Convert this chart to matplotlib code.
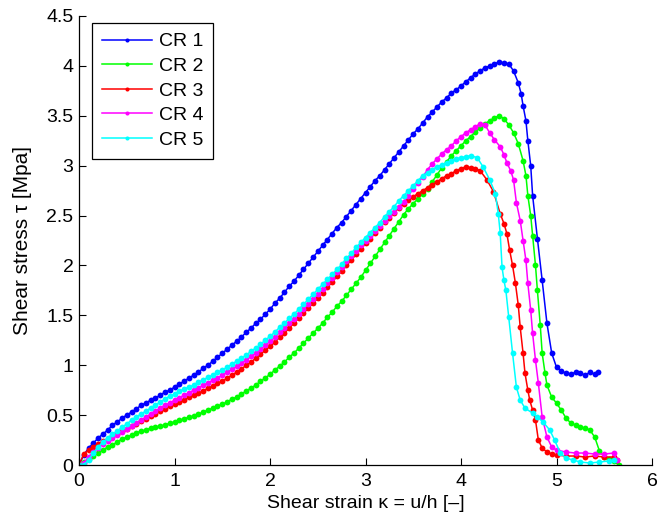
import matplotlib
matplotlib.use("Agg")
import matplotlib.pyplot as plt

plt.rcParams['font.family'] = ['Liberation Sans', 'DejaVu Sans']

labels = ["CR 1", "CR 2", "CR 3", "CR 4", "CR 5"]
colors = ["#0000ff", "#00ff00", "#ff0000", "#ff00ff", "#00ffff"]

# strain positions read in the loading (rising) part
grid = [0.0, 0.05, 0.1, 0.15, 0.2, 0.25, 0.3, 0.35, 0.4, 0.45, 0.5, 0.55, 0.6, 0.65, 0.7,
        0.75, 0.8, 0.85, 0.9, 0.95, 1.0, 1.05, 1.1, 1.15, 1.2, 1.25, 1.3, 1.35, 1.4, 1.45,
        1.5, 1.55, 1.6, 1.65, 1.7, 1.75, 1.8, 1.85, 1.9, 1.95, 2.0, 2.05, 2.1, 2.15, 2.2,
        2.25, 2.3, 2.35, 2.4, 2.45, 2.5, 2.55, 2.6, 2.65, 2.7, 2.75, 2.8, 2.85, 2.9, 2.95,
        3.0, 3.05, 3.1, 3.15, 3.2, 3.25, 3.3, 3.35, 3.4, 3.45, 3.5, 3.55, 3.6, 3.65, 3.7,
        3.75, 3.8, 3.85, 3.9, 3.95, 4.0, 4.05, 4.1, 4.15, 4.2, 4.25, 4.3, 4.35, 4.4]

# CR 1
y1_rise = [0, 0.1, 0.17, 0.22, 0.27, 0.31, 0.35, 0.4, 0.43, 0.47, 0.5, 0.53, 0.56, 0.6,
           0.62, 0.65, 0.67, 0.7, 0.73, 0.75, 0.78, 0.81, 0.84, 0.87, 0.9, 0.93, 0.97, 1.0,
           1.04, 1.08, 1.12, 1.16, 1.2, 1.24, 1.28, 1.33, 1.37, 1.42, 1.46, 1.51, 1.56,
           1.62, 1.67, 1.73, 1.79, 1.84, 1.9, 1.96, 2.02, 2.08, 2.14, 2.2, 2.26, 2.32, 2.38,
           2.43, 2.49, 2.55, 2.61, 2.67, 2.73, 2.79, 2.85, 2.9, 2.96, 3.02, 3.08, 3.14, 3.2,
           3.26, 3.32, 3.37, 3.43, 3.49, 3.54, 3.59, 3.64, 3.68, 3.73, 3.76, 3.8, 3.84, 3.88,
           3.92, 3.95, 3.98, 4.0, 4.02, 4.04]
x1_drop = [4.45, 4.5, 4.55, 4.6, 4.63, 4.65, 4.68, 4.7, 4.73, 4.75, 4.8, 4.85, 4.9, 4.95,
           5.0, 5.05, 5.1, 5.15, 5.2, 5.25, 5.3, 5.35, 5.4, 5.43]
y1_drop = [4.03, 4.02, 3.95, 3.83, 3.72, 3.6, 3.45, 3.25, 3.0, 2.7, 2.27, 1.85, 1.42, 1.12,
           0.98, 0.94, 0.92, 0.91, 0.93, 0.92, 0.9, 0.93, 0.91, 0.93]

# CR 2
y2_rise = [0, 0.03, 0.06, 0.09, 0.12, 0.15, 0.18, 0.2, 0.23, 0.26, 0.28, 0.3, 0.32, 0.34,
           0.35, 0.37, 0.38, 0.39, 0.4, 0.42, 0.43, 0.45, 0.46, 0.48, 0.49, 0.51, 0.53,
           0.55, 0.57, 0.59, 0.61, 0.63, 0.66, 0.68, 0.71, 0.74, 0.77, 0.8, 0.84, 0.87,
           0.91, 0.95, 0.99, 1.03, 1.08, 1.12, 1.17, 1.22, 1.27, 1.32, 1.37, 1.42, 1.48,
           1.53, 1.59, 1.64, 1.7, 1.76, 1.82, 1.88, 1.95, 2.02, 2.09, 2.16, 2.23, 2.3, 2.37,
           2.44, 2.51, 2.57, 2.62, 2.67, 2.72, 2.77, 2.84, 2.91, 2.98, 3.04, 3.1, 3.15, 3.2,
           3.25, 3.29, 3.34, 3.38, 3.42, 3.45, 3.48, 3.5]
x2_drop = [4.45, 4.5, 4.55, 4.6, 4.65, 4.68, 4.7, 4.73, 4.75, 4.78, 4.8, 4.83, 4.85, 4.88,
           4.9, 4.95, 5.0, 5.05, 5.1, 5.15, 5.2, 5.25, 5.3, 5.35, 5.4, 5.45, 5.5, 5.55,
           5.6, 5.65]
y2_drop = [3.47, 3.41, 3.33, 3.22, 3.05, 2.9, 2.7, 2.5, 2.3, 2.0, 1.75, 1.4, 1.12, 0.92,
           0.8, 0.68, 0.62, 0.55, 0.47, 0.42, 0.4, 0.38, 0.37, 0.35, 0.28, 0.14, 0.08,
           0.06, 0.04, 0.0]

# CR 3
y3_rise = [0, 0.11, 0.15, 0.18, 0.21, 0.24, 0.26, 0.29, 0.31, 0.34, 0.36, 0.39, 0.41,
           0.44, 0.46, 0.49, 0.51, 0.54, 0.56, 0.59, 0.61, 0.63, 0.65, 0.68, 0.7, 0.72,
           0.74, 0.77, 0.79, 0.82, 0.84, 0.87, 0.9, 0.93, 0.96, 1.0, 1.03, 1.07, 1.11,
           1.15, 1.19, 1.23, 1.28, 1.32, 1.37, 1.42, 1.47, 1.52, 1.57, 1.62, 1.67, 1.72,
           1.78, 1.83, 1.89, 1.94, 2.0, 2.05, 2.11, 2.16, 2.22, 2.27, 2.33, 2.38, 2.44,
           2.48, 2.53, 2.58, 2.62, 2.66, 2.69, 2.72, 2.75, 2.78, 2.81, 2.84, 2.87, 2.9,
           2.92, 2.95, 2.97, 2.99, 2.98, 2.97, 2.95]
x3_drop = [4.27, 4.34, 4.41, 4.45, 4.48, 4.51, 4.54, 4.57, 4.6, 4.62, 4.65, 4.67, 4.7,
           4.72, 4.75, 4.78, 4.81, 4.85, 4.9, 4.95, 5.0, 5.1, 5.2, 5.3, 5.4, 5.5, 5.6, 5.63]
y3_drop = [2.86, 2.74, 2.52, 2.42, 2.32, 2.15, 2.0, 1.82, 1.6, 1.38, 1.12, 0.92, 0.75,
           0.65, 0.55, 0.45, 0.25, 0.17, 0.13, 0.11, 0.1, 0.09, 0.09, 0.08, 0.09, 0.08,
           0.08, 0.05]

# CR 4
y4_rise = [0, 0.02, 0.08, 0.13, 0.17, 0.21, 0.24, 0.27, 0.3, 0.33, 0.36, 0.39, 0.42,
           0.45, 0.48, 0.51, 0.54, 0.57, 0.6, 0.62, 0.65, 0.67, 0.7, 0.72, 0.75, 0.77, 0.8,
           0.82, 0.85, 0.87, 0.9, 0.93, 0.96, 0.99, 1.02, 1.05, 1.09, 1.12, 1.16, 1.2,
           1.24, 1.28, 1.33, 1.37, 1.42, 1.46, 1.51, 1.56, 1.61, 1.66, 1.71, 1.76, 1.82,
           1.87, 1.93, 1.98, 2.04, 2.09, 2.14, 2.2, 2.25, 2.3, 2.35, 2.4, 2.45, 2.5, 2.54,
           2.59, 2.64, 2.7, 2.77, 2.83, 2.89, 2.96, 3.02, 3.07, 3.12, 3.16, 3.2, 3.25, 3.29,
           3.33, 3.36, 3.39, 3.42, 3.41]
x4_drop = [4.3, 4.35, 4.41, 4.45, 4.48, 4.52, 4.55, 4.58, 4.62, 4.65, 4.68, 4.7, 4.73,
           4.75, 4.78, 4.81, 4.85, 4.9, 4.95, 5.0, 5.1, 5.2, 5.3, 5.4, 5.5, 5.6, 5.63]
y4_drop = [3.33, 3.26, 3.19, 3.11, 3.03, 2.95, 2.86, 2.63, 2.45, 2.25, 2.05, 1.82, 1.55,
           1.32, 1.05, 0.82, 0.48, 0.28, 0.18, 0.15, 0.13, 0.12, 0.12, 0.11, 0.11, 0.12,
           0.05]

# CR 5
y5_rise = [0, 0.0, 0.05, 0.12, 0.18, 0.23, 0.27, 0.31, 0.34, 0.38, 0.41, 0.45, 0.48, 0.51,
           0.54, 0.57, 0.6, 0.63, 0.66, 0.69, 0.71, 0.74, 0.76, 0.78, 0.8, 0.83, 0.85,
           0.88, 0.9, 0.93, 0.95, 0.98, 1.01, 1.04, 1.07, 1.1, 1.14, 1.17, 1.21, 1.25,
           1.29, 1.33, 1.38, 1.42, 1.47, 1.51, 1.56, 1.61, 1.66, 1.71, 1.76, 1.81, 1.86,
           1.91, 1.96, 2.01, 2.07, 2.12, 2.18, 2.23, 2.28, 2.33, 2.38, 2.43, 2.49, 2.54,
           2.59, 2.65, 2.7, 2.75, 2.8, 2.85, 2.9, 2.93, 2.96, 2.99, 3.01, 3.03, 3.05, 3.07,
           3.08, 3.09, 3.1]
x5_drop = [4.17, 4.23, 4.3, 4.36, 4.39, 4.41, 4.43, 4.45, 4.47, 4.5, 4.54, 4.58, 4.62,
           4.67, 4.75, 4.8, 4.86, 4.93, 4.98, 5.04, 5.1, 5.17, 5.25, 5.35, 5.45, 5.55, 5.6]
y5_drop = [3.08, 2.99, 2.86, 2.72, 2.52, 2.33, 1.98, 1.85, 1.75, 1.48, 1.12, 0.78, 0.65,
           0.57, 0.52, 0.48, 0.43, 0.35, 0.25, 0.12, 0.07, 0.05, 0.03, 0.02, 0.03, 0.04,
           0.05]

rises = [y1_rise, y2_rise, y3_rise, y4_rise, y5_rise]
drops_x = [x1_drop, x2_drop, x3_drop, x4_drop, x5_drop]
drops_y = [y1_drop, y2_drop, y3_drop, y4_drop, y5_drop]

xticks = [0, 1, 2, 3, 4, 5, 6]
yticks = [0, 0.5, 1, 1.5, 2, 2.5, 3, 3.5, 4, 4.5]
ytick_labels = ["0", "0.5", "1", "1.5", "2", "2.5", "3", "3.5", "4", "4.5"]

fig = plt.figure(figsize=(6.58, 5.24), dpi=100)
ax = fig.add_axes([79/658, 59/524, (652-79)/658, (465-16)/524])

for yr, xd, yd, c, lab in zip(rises, drops_x, drops_y, colors, labels):
    x = grid[:len(yr)] + xd
    y = yr + yd
    ax.plot(x, y, '-', color=c, lw=1.1, marker='o', ms=4.2, mew=0, label=lab)

ax.set_xlim(0, 6)
ax.set_ylim(0, 4.5)
ax.set_xticks(xticks)
ax.set_xticklabels([str(t) for t in xticks])
ax.set_yticks(yticks)
ax.set_yticklabels(ytick_labels)
ax.tick_params(axis='both', direction='in', length=5, width=0.8, labelsize=14,
               colors='black')
ax.tick_params(axis='x', pad=6)
ax.tick_params(axis='y', pad=4)
ax.spines['top'].set_visible(False)
ax.spines['right'].set_visible(False)
for s in ['left', 'bottom']:
    ax.spines[s].set_linewidth(0.9)
    ax.spines[s].set_color('black')

ax.set_xlabel("Shear strain κ = u/h [–]", fontsize=14, labelpad=3)
ax.set_ylabel("Shear stress τ [Mpa]", fontsize=15, labelpad=10)

leg = ax.legend(loc='upper left', bbox_to_anchor=(92/658, 1 - 23/524),
                bbox_transform=fig.transFigure, fontsize=14, frameon=True,
                fancybox=False, framealpha=1, edgecolor='black', borderaxespad=0,
                handlelength=2.6, handletextpad=0.35, labelspacing=0.36, borderpad=0.5,
                markerscale=0.7)
leg.get_frame().set_linewidth(0.9)

fig.savefig("out.png", dpi=100)
